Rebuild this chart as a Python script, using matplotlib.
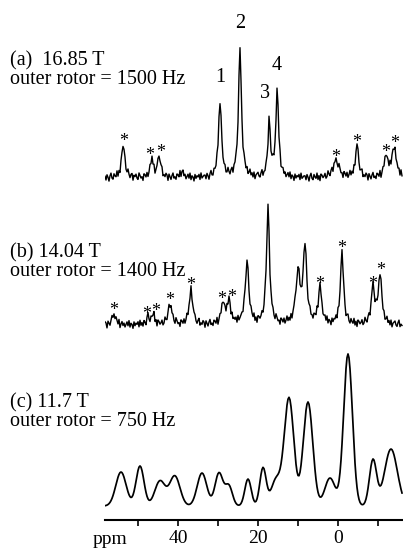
import numpy as np
import matplotlib
matplotlib.use("Agg")
import matplotlib.pyplot as plt

plt.rcParams['font.family'] = ['Liberation Serif', 'DejaVu Serif']

# ppm axis (reversed, NMR style)
ppm_left, ppm_right = 58.25, -16.25
ppm = np.arange(ppm_left, ppm_right, -0.25)

# baseline jitter (pixels)
noise = [1, -2, 2, 0, -3, 1, 3, -1, -2, 2, 0, -1, 3, -2, 1, -3, 2, 1, -1, 0,
         2, -2, -1, 3, 0, -2, 1, 2, -3, 1, 0, 2, -1, -2, 3, 1, -1, 0, -3, 2,
         1, -1, 2, -2, 0, 3, -1, 1, -2, 2, -3, 0, 1, 2, -1, -2, 1, 3, -2, 0,
         -1, 2, 1, -3, 2, 0, -2, 1, 3, -1, 0, -2, 2, 1, -1, 3, -3, 0, 2, -1,
         1, -2, 0, 2, -1, 3, -2, 1, 0, -3, 2, -1, 1, 0, 2, -2, 3, -1, 0, 1]

# (a) 16.85 T : peak ppm, height, width (FWHM, ppm)
a_pos = [53.7, 46.5, 44.7, 39.0, 29.5, 24.5, 17.2, 15.2, 0.5, -4.75, -12.0, -14.0]
a_hgt = [33, 19, 22, 6, 77, 128, 56, 86, 17, 32, 22, 31]
a_wid = [1.0, 0.9, 0.9, 1.0, 0.9, 0.9, 0.75, 0.85, 1.8, 1.0, 1.0, 1.3]

# (b) 14.04 T
b_pos = [56.0, 47.5, 46.2, 42.0, 36.75, 28.75, 27.25, 22.75, 17.5, 10.0, 8.25, 4.5, -1.0, -8.75, -10.5]
b_hgt = [11, 7, 10, 21, 36, 22, 24, 62, 118, 50, 78, 37, 73, 37, 51]
b_wid = [1.0, 0.9, 0.9, 1.1, 1.0, 1.0, 1.0, 1.1, 0.9, 1.3, 1.0, 1.0, 0.9, 1.0, 1.0]

# (c) 11.7 T : broad lines (ppm, height, sigma)
c_pos = [54.25, 49.5, 44.5, 40.8, 34.0, 29.75, 27.3, 22.5, 18.75, 15.5, 12.25, 7.5, 2.0, -2.5, -8.75, -13.25]
c_hgt = [34, 40, 25, 30, 33, 33, 20, 27, 38, 26, 108, 104, 28, 152, 46, 57]
c_sig = [1.3, 1.0, 1.3, 1.3, 1.2, 1.0, 0.9, 0.8, 0.8, 1.2, 1.2, 1.2, 1.3, 1.1, 0.9, 1.6]

labels = ["(a)  16.85 T\nouter rotor = 1500 Hz",
          "(b) 14.04 T\nouter rotor = 1400 Hz",
          "(c) 11.7 T\nouter rotor = 750 Hz"]

# sideband markers: (x of the star, ppm of the peak under it)
a_stars = [(53.7, 53.7), (47.0, 46.5), (44.25, 44.7), (0.5, 0.5), (-4.75, -4.75), (-12.0, -12.0), (-14.2, -14.0)]
b_stars = [(56.0, 56.0), (47.75, 47.5), (45.5, 46.2), (42.0, 42.0), (36.75, 36.75), (29.0, 28.75),
           (26.5, 27.25), (4.5, 4.5), (-1.0, -1.0), (-8.6, -8.75), (-10.7, -10.5)]


def lorentz_sum(pos, hgt, wid):
    y = np.zeros_like(ppm)
    for p, h, w in zip(pos, hgt, wid):
        y += h / (1 + ((ppm - p) / (w / 2)) ** 2)
    return y


def gauss_sum(pos, hgt, sig):
    y = np.zeros_like(ppm)
    for p, h, s in zip(pos, hgt, sig):
        y += h * np.exp(-(ppm - p) ** 2 / (2 * s ** 2))
    return y


jitter = 1.3 * np.resize(np.array(noise, dtype=float), ppm.size)
base_a, base_b = 342, 195
spec_a = base_a + lorentz_sum(a_pos, a_hgt, a_wid) + jitter
spec_b = base_b + lorentz_sum(b_pos, b_hgt, b_wid) + np.roll(jitter, 37)
spec_c = 14 + gauss_sum(c_pos, c_hgt, c_sig)

fig = plt.figure(figsize=(4.03, 5.48), dpi=100)
ax = fig.add_axes([105 / 403, 28 / 548, 1 - 105 / 403, 520 / 548])
ax.plot(ppm, spec_a, color='black', lw=1.0)
ax.plot(ppm, spec_b, color='black', lw=1.0)
ax.plot(ppm, spec_c, color='black', lw=1.25)

# asterisks over spinning sidebands
for base, pos, hgt, stars in [(base_a, a_pos, a_hgt, a_stars), (base_b, b_pos, b_hgt, b_stars)]:
    for sx, peak in stars:
        h = hgt[pos.index(peak)]
        ax.text(sx, base + h - 5, '*', ha='center', va='bottom', fontsize=13)

# peak numbers in (a)
for num, x, y in [('1', 29.5, 442), ('2', 24.5, 496), ('3', 18.25, 427), ('4', 15.25, 455)]:
    ax.text(x, y, num, ha='center', va='center', fontsize=14.5)

for lab, y in zip(labels, [450, 258, 108]):
    fig.text(10 / 403, (y + 28) / 548, lab, ha='left', va='center', fontsize=14.5, linespacing=1.0)

ax.set_xlim(ppm_left, ppm_right)
ax.set_ylim(0, 520)
ax.set_xticks([40, 20, 0])
ax.set_xticks([50, 30, 10, -10], minor=True)
ax.tick_params(axis='x', which='both', direction='out', length=4, width=1.2, labelsize=14, pad=3)
ax.set_yticks([])
for side in ['top', 'left', 'right']:
    ax.spines[side].set_visible(False)
ax.spines['bottom'].set_linewidth(1.5)
fig.text(110 / 403, 9 / 548, 'ppm', ha='center', va='center', fontsize=14)

fig.savefig('out.png', dpi=100)
